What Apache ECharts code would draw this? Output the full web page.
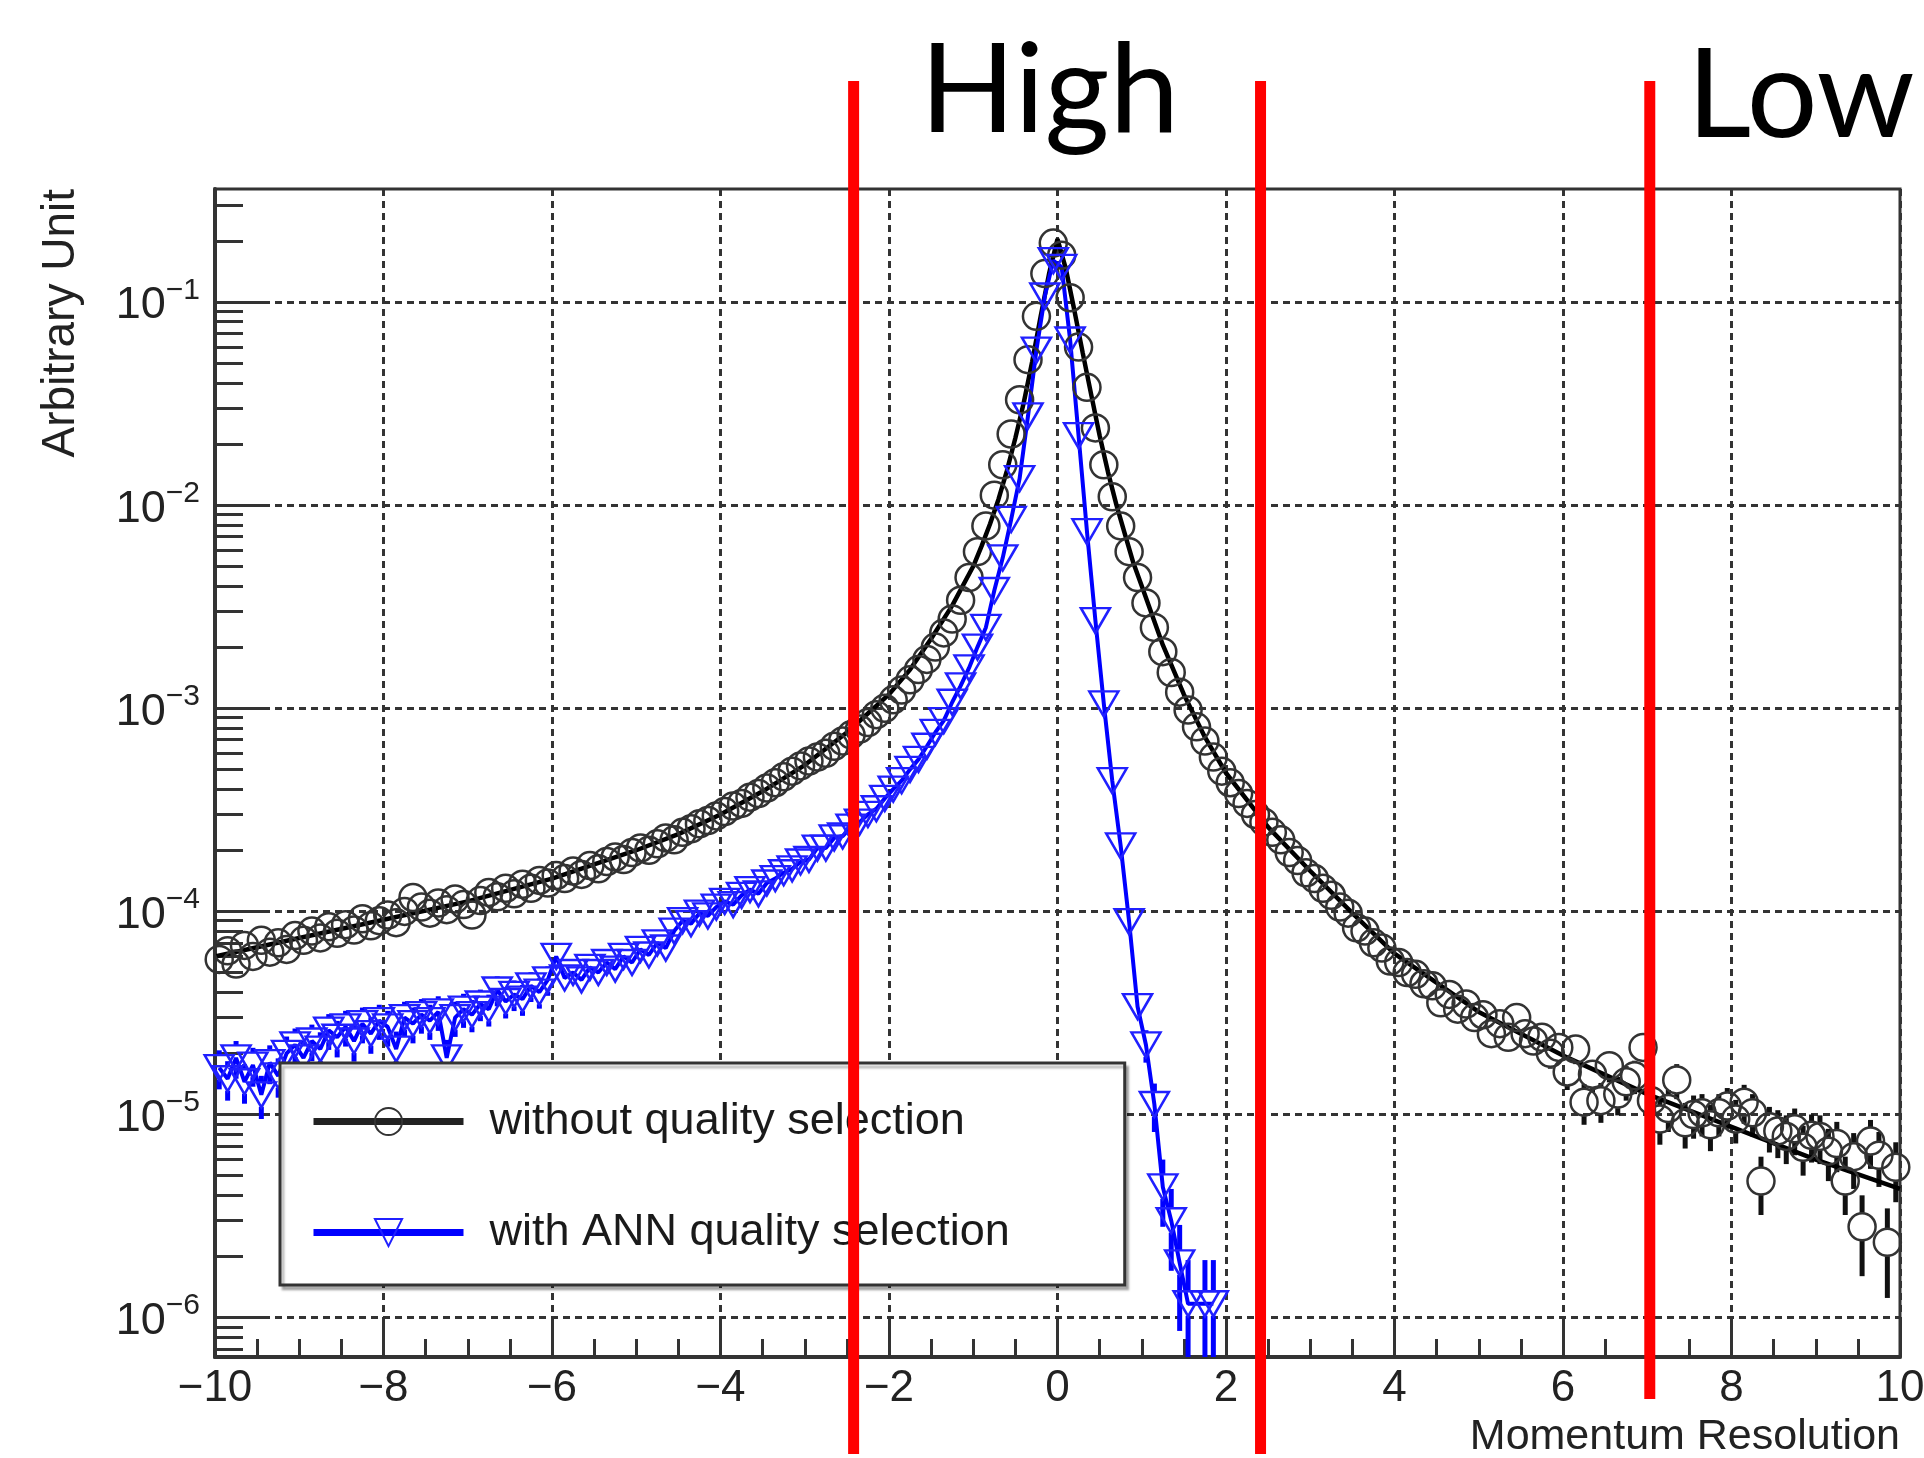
<!DOCTYPE html>
<html>
<head>
<meta charset="utf-8">
<title>Momentum resolution</title>
<script src="https://cdn.jsdelivr.net/npm/echarts@6/dist/echarts.min.js"></script>
<style>
  html, body { margin: 0; padding: 0; background: #fff; }
  #chart { width: 1924px; height: 1458px; }
</style>
</head>
<body>
<div id="chart"></div>
<script>
// histogram bin centres (bin width 0.1)
const binCenters = [
  -9.95, -9.85, -9.75, -9.65, -9.55, -9.45, -9.35, -9.25, -9.15, -9.05,
  -8.95, -8.85, -8.75, -8.65, -8.55, -8.45, -8.35, -8.25, -8.15, -8.05,
  -7.95, -7.85, -7.75, -7.65, -7.55, -7.45, -7.35, -7.25, -7.15, -7.05,
  -6.95, -6.85, -6.75, -6.65, -6.55, -6.45, -6.35, -6.25, -6.15, -6.05,
  -5.95, -5.85, -5.75, -5.65, -5.55, -5.45, -5.35, -5.25, -5.15, -5.05,
  -4.95, -4.85, -4.75, -4.65, -4.55, -4.45, -4.35, -4.25, -4.15, -4.05,
  -3.95, -3.85, -3.75, -3.65, -3.55, -3.45, -3.35, -3.25, -3.15, -3.05,
  -2.95, -2.85, -2.75, -2.65, -2.55, -2.45, -2.35, -2.25, -2.15, -2.05,
  -1.95, -1.85, -1.75, -1.65, -1.55, -1.45, -1.35, -1.25, -1.15, -1.05,
  -0.95, -0.85, -0.75, -0.65, -0.55, -0.45, -0.35, -0.25, -0.15, -0.05,
  0.05, 0.15, 0.25, 0.35, 0.45, 0.55, 0.65, 0.75, 0.85, 0.95,
  1.05, 1.15, 1.25, 1.35, 1.45, 1.55, 1.65, 1.75, 1.85, 1.95,
  2.05, 2.15, 2.25, 2.35, 2.45, 2.55, 2.65, 2.75, 2.85, 2.95,
  3.05, 3.15, 3.25, 3.35, 3.45, 3.55, 3.65, 3.75, 3.85, 3.95,
  4.05, 4.15, 4.25, 4.35, 4.45, 4.55, 4.65, 4.75, 4.85, 4.95,
  5.05, 5.15, 5.25, 5.35, 5.45, 5.55, 5.65, 5.75, 5.85, 5.95,
  6.05, 6.15, 6.25, 6.35, 6.45, 6.55, 6.65, 6.75, 6.85, 6.95,
  7.05, 7.15, 7.25, 7.35, 7.45, 7.55, 7.65, 7.75, 7.85, 7.95,
  8.05, 8.15, 8.25, 8.35, 8.45, 8.55, 8.65, 8.75, 8.85, 8.95,
  9.05, 9.15, 9.25, 9.35, 9.45, 9.55, 9.65, 9.75, 9.85, 9.95
];

// without quality selection (open circles)
const withoutSelection = [
  5.8e-5, 6.4e-5, 5.5e-5, 6.8e-5, 6.0e-5, 7.2e-5, 6.3e-5, 7.0e-5, 6.5e-5, 7.6e-5,
  7.2e-5, 8.0e-5, 7.4e-5, 8.4e-5, 7.8e-5, 8.6e-5, 8.1e-5, 9.2e-5, 8.5e-5, 9.0e-5,
  9.6e-5, 8.8e-5, 1.0e-4, 1.17e-4, 1.05e-4, 9.8e-5, 1.1e-4, 1.02e-4, 1.15e-4, 1.08e-4,
  9.6e-5, 1.13e-4, 1.24e-4, 1.18e-4, 1.3e-4, 1.22e-4, 1.36e-4, 1.3e-4, 1.42e-4, 1.38e-4,
  1.5e-4, 1.45e-4, 1.58e-4, 1.52e-4, 1.68e-4, 1.62e-4, 1.76e-4, 1.85e-4, 1.8e-4, 1.95e-4,
  2.05e-4, 2.0e-4, 2.15e-4, 2.3e-4, 2.25e-4, 2.45e-4, 2.55e-4, 2.7e-4, 2.8e-4, 2.95e-4,
  3.1e-4, 3.3e-4, 3.4e-4, 3.65e-4, 3.8e-4, 4.05e-4, 4.3e-4, 4.6e-4, 4.9e-4, 5.2e-4,
  5.5e-4, 5.75e-4, 6.0e-4, 6.5e-4, 6.9e-4, 7.4e-4, 7.9e-4, 8.5e-4, 9.3e-4, 1.0e-3,
  1.1e-3, 1.23e-3, 1.38e-3, 1.55e-3, 1.74e-3, 2.0e-3, 2.35e-3, 2.75e-3, 3.4e-3, 4.4e-3,
  5.9e-3, 7.9e-3, 1.12e-2, 1.58e-2, 2.24e-2, 3.3e-2, 5.2e-2, 8.5e-2, 0.138, 0.195,
  0.17, 0.105, 0.060, 0.038, 0.024, 0.0158, 0.011, 7.9e-3, 5.9e-3, 4.4e-3,
  3.3e-3, 2.5e-3, 1.9e-3, 1.5e-3, 1.2e-3, 9.8e-4, 8.1e-4, 6.9e-4, 5.75e-4, 4.9e-4,
  4.3e-4, 3.8e-4, 3.4e-4, 3.0e-4, 2.75e-4, 2.45e-4, 2.25e-4, 1.95e-4, 1.78e-4, 1.55e-4,
  1.45e-4, 1.3e-4, 1.2e-4, 1.05e-4, 9.8e-5, 8.3e-5, 8.0e-5, 7.0e-5, 6.6e-5, 5.7e-5,
  5.6e-5, 5.0e-5, 4.9e-5, 4.4e-5, 4.3e-5, 3.55e-5, 3.9e-5, 3.3e-5, 3.5e-5, 3.0e-5,
  3.1e-5, 2.5e-5, 2.8e-5, 2.4e-5, 3.0e-5, 2.5e-5, 2.3e-5, 2.4e-5, 2.0e-5, 2.14e-5,
  1.62e-5, 2.1e-5, 1.15e-5, 1.58e-5, 1.17e-5, 1.74e-5, 1.26e-5, 1.45e-5, 1.55e-5, 2.14e-5,
  1.17e-5, 9.5e-6, 1.07e-5, 1.48e-5, 9.1e-6, 1.0e-5, 1.02e-5, 8.9e-6, 1.02e-5, 1.1e-5,
  9.5e-6, 1.15e-5, 1.02e-5, 4.7e-6, 8.7e-6, 8.3e-6, 7.8e-6, 8.5e-6, 6.9e-6, 7.9e-6,
  7.8e-6, 6.6e-6, 7.2e-6, 4.7e-6, 6.2e-6, 2.8e-6, 7.4e-6, 6.3e-6, 2.35e-6, 5.5e-6
];

// with ANN quality selection (open triangles), bins -9.95 .. 1.85
const withAnnSelection = [
  1.7e-5, 1.5e-5, 1.9e-5, 1.45e-5, 1.75e-5, 1.25e-5, 1.8e-5, 1.55e-5, 2.0e-5, 2.2e-5,
  1.9e-5, 2.3e-5, 2.1e-5, 2.6e-5, 2.4e-5, 2.7e-5, 2.3e-5, 2.8e-5, 2.5e-5, 2.9e-5,
  2.7e-5, 2.1e-5, 3.0e-5, 2.8e-5, 3.1e-5, 2.9e-5, 3.2e-5, 1.9e-5, 3.0e-5, 3.3e-5,
  3.1e-5, 3.5e-5, 3.3e-5, 4.1e-5, 3.6e-5, 3.9e-5, 3.7e-5, 4.3e-5, 4.0e-5, 4.6e-5,
  6.0e-5, 4.7e-5, 5.0e-5, 4.6e-5, 5.3e-5, 5.0e-5, 5.6e-5, 5.2e-5, 6.0e-5, 5.6e-5,
  6.5e-5, 6.1e-5, 7.0e-5, 6.6e-5, 8.0e-5, 9.0e-5, 8.7e-5, 9.8e-5, 9.5e-5, 1.05e-4,
  1.12e-4, 1.08e-4, 1.2e-4, 1.28e-4, 1.22e-4, 1.38e-4, 1.45e-4, 1.55e-4, 1.62e-4, 1.75e-4,
  1.8e-4, 2.05e-4, 2.05e-4, 2.3e-4, 2.35e-4, 2.6e-4, 2.75e-4, 3.0e-4, 3.2e-4, 3.6e-4,
  4.0e-4, 4.4e-4, 5.0e-4, 5.6e-4, 6.5e-4, 7.6e-4, 8.7e-4, 1.07e-3, 1.29e-3, 1.58e-3,
  2.0e-3, 2.5e-3, 3.8e-3, 5.5e-3, 8.5e-3, 1.35e-2, 2.75e-2, 5.8e-2, 0.107, 0.16,
  0.148, 0.065, 0.022, 7.4e-3, 2.7e-3, 1.05e-3, 4.4e-4, 2.1e-4, 8.9e-5, 3.4e-5,
  2.2e-5, 1.12e-5, 4.4e-6, 3.0e-6, 1.86e-6, 1.17e-6, null, 1.17e-6, 1.17e-6
];

// fitted curve drawn over the open circles
const fitX = [-10, -9, -8, -7, -6, -5, -4.5, -4, -3.5, -3, -2.5, -2, -1.75, -1.5, -1.25, -1,
  -0.9, -0.8, -0.7, -0.6, -0.5, -0.4, -0.3, -0.2, -0.1, 0, 0.1, 0.2, 0.3, 0.4, 0.5, 0.6,
  0.7, 0.8, 0.9, 1.0, 1.25, 1.5, 1.75, 2, 2.5, 3, 3.5, 4, 5, 6, 7, 8, 9, 10];
const fitY = [6.0e-5, 7.4e-5, 9.1e-5, 1.12e-4, 1.45e-4, 2.0e-4, 2.4e-4, 3.0e-4, 3.9e-4, 5.25e-4,
  7.6e-4, 1.17e-3, 1.55e-3, 2.2e-3, 3.2e-3, 5.0e-3, 6.3e-3, 8.1e-3, 1.07e-2, 1.48e-2,
  2.14e-2, 3.2e-2, 5.1e-2, 8.5e-2, 0.138, 0.204, 0.145, 0.091, 0.056, 0.035, 0.022, 0.0145,
  0.010, 7.2e-3, 5.2e-3, 4.0e-3, 2.05e-3, 1.17e-3, 7.2e-4, 4.8e-4, 2.6e-4, 1.58e-4,
  9.8e-5, 6.2e-5, 3.2e-5, 1.95e-5, 1.26e-5, 8.7e-6, 6.0e-6, 4.3e-6];

// [bin centre, error] where the error bars stick out of the markers
const withoutSelectionErrors = [
  [5.45, 4e-6], [5.55, 3.6e-6], [5.65, 3.4e-6], [5.75, 3.5e-6], [5.85, 3.2e-6], [5.95, 3.3e-6],
  [6.05, 3.0e-6], [6.15, 3.3e-6], [6.25, 2.6e-6], [6.35, 2.9e-6], [6.45, 2.6e-6], [6.55, 3.0e-6],
  [6.65, 2.7e-6], [6.75, 2.8e-6], [6.85, 2.9e-6], [6.95, 3.3e-6], [7.05, 2.6e-6], [7.15, 2.4e-6],
  [7.25, 2.5e-6], [7.35, 2.9e-6], [7.45, 2.3e-6], [7.55, 2.4e-6], [7.65, 2.4e-6], [7.75, 2.3e-6],
  [7.85, 2.4e-6], [7.95, 2.5e-6], [8.05, 2.3e-6], [8.15, 2.5e-6], [8.25, 2.4e-6], [8.35, 1.5e-6],
  [8.45, 2.2e-6], [8.55, 2.2e-6], [8.65, 2.1e-6], [8.75, 2.2e-6], [8.85, 1.9e-6], [8.95, 2.1e-6],
  [9.05, 2.1e-6], [9.15, 1.9e-6], [9.25, 2.0e-6], [9.35, 1.5e-6], [9.45, 1.9e-6], [9.55, 1.2e-6],
  [9.65, 2.0e-6], [9.75, 1.9e-6], [9.85, 1.1e-6], [9.95, 1.8e-6]
];
const withAnnErrors = [
  [-9.95, 3.7e-6], [-9.85, 3.3e-6], [-9.75, 4.0e-6], [-9.65, 3.2e-6], [-9.55, 3.8e-6],
  [-9.45, 3.0e-6], [-9.35, 3.9e-6], [-9.25, 3.4e-6], [-9.15, 4.2e-6], [-9.05, 4.5e-6],
  [-8.95, 4.1e-6], [-8.85, 4.7e-6], [-8.75, 4.4e-6], [-8.65, 5.2e-6], [-8.55, 4.9e-6],
  [-8.45, 5.4e-6], [-8.35, 4.8e-6], [-8.25, 5.6e-6], [-8.15, 5.1e-6], [-8.05, 5.7e-6],
  [-7.95, 5.4e-6], [-7.85, 4.6e-6], [-7.75, 5.9e-6], [-7.65, 5.6e-6], [-7.55, 6.0e-6],
  [-7.45, 5.7e-6], [-7.35, 6.2e-6], [-7.25, 4.3e-6], [-7.15, 5.9e-6], [-7.05, 6.3e-6],
  [-6.95, 5.6e-6], [-6.85, 6.2e-6], [-6.75, 5.9e-6], [-6.65, 6.9e-6], [-6.55, 6.3e-6],
  [-6.45, 6.7e-6], [-6.35, 6.4e-6], [-6.25, 7.2e-6], [-6.15, 6.8e-6], [-6.05, 7.6e-6],
  [1.05, 4e-6], [1.15, 3e-6], [1.25, 1.6e-6], [1.35, 1.3e-6], [1.45, 1.0e-6],
  [1.55, 0.75e-6], [1.75, 0.75e-6], [1.85, 0.75e-6]
];

const yMajorTicks = [1e-6, 1e-5, 1e-4, 1e-3, 1e-2, 1e-1];
const yMinorTicks = [
  7e-7, 8e-7, 9e-7,
  2e-6, 3e-6, 4e-6, 5e-6, 6e-6, 7e-6, 8e-6, 9e-6,
  2e-5, 3e-5, 4e-5, 5e-5, 6e-5, 7e-5, 8e-5, 9e-5,
  2e-4, 3e-4, 4e-4, 5e-4, 6e-4, 7e-4, 8e-4, 9e-4,
  2e-3, 3e-3, 4e-3, 5e-3, 6e-3, 7e-3, 8e-3, 9e-3,
  2e-2, 3e-2, 4e-2, 5e-2, 6e-2, 7e-2, 8e-2, 9e-2,
  2e-1, 3e-1
];

// region boundaries drawn on top of the plot
const redLineX = [-2.42, 2.41, 7.03];
const redLineBottom = [0, 0, 0.04];

const FONT = 'Liberation Sans';
const AXIS_COLOR = '#333';

function errorData(values, errors) {
  return errors.map(function (e) {
    const v = values[binCenters.indexOf(e[0])];
    return [e[0], v - e[1], v + e[1], v];
  });
}

function errorBars(gap, color, width) {
  return function (params, api) {
    const x = api.value(0);
    const top = api.coord([x, api.value(2)]);
    const mid = api.coord([x, api.value(3)]);
    const bot = api.coord([x, api.value(1)]);
    const cs = params.coordSys;
    const clamp = function (y) { return Math.max(cs.y, Math.min(cs.y + cs.height, y)); };
    const parts = [[clamp(top[1]), clamp(mid[1] - gap)], [clamp(mid[1] + gap), clamp(bot[1])]];
    const children = [];
    parts.forEach(function (p) {
      if (p[1] - p[0] > 1) {
        children.push({
          type: 'line',
          shape: { x1: mid[0], y1: p[0], x2: mid[0], y2: p[1] },
          style: { stroke: color, lineWidth: width }
        });
      }
    });
    return { type: 'group', children: children };
  };
}

const chart = echarts.init(document.getElementById('chart'), null, { renderer: 'canvas' });

chart.setOption({
  animation: false,
  backgroundColor: '#fff',
  grid: [
    {
      left: 215, right: 24, top: 189, bottom: 101,
      containLabel: false, outerBoundsMode: 'none',
      show: true, borderColor: AXIS_COLOR, borderWidth: 3
    },
    { left: 215, right: 24, top: 81, bottom: 4, containLabel: false, outerBoundsMode: 'none' }
  ],
  xAxis: [
    {
      type: 'value', gridIndex: 0, min: -10, max: 10, interval: 2,
      position: 'bottom',
      name: 'Momentum Resolution',
      nameLocation: 'end', nameGap: 0, nameMoveOverlap: false,
      nameTextStyle: {
        fontFamily: FONT, fontSize: 43, color: '#222',
        align: 'right', verticalAlign: 'top', padding: [59, 0, 0, 0]
      },
      axisLine: { show: true, onZero: false, lineStyle: { color: AXIS_COLOR, width: 4 } },
      axisTick: { show: true, inside: true, length: 40, lineStyle: { color: AXIS_COLOR, width: 3 } },
      minorTick: { show: true, splitNumber: 4, length: 18, lineStyle: { color: AXIS_COLOR, width: 3 } },
      axisLabel: {
        margin: 10, fontFamily: FONT, fontSize: 44, color: '#222',
        formatter: function (v) { return v < 0 ? '\u2212' + (-v) : String(v); }
      },
      splitLine: { show: true, lineStyle: { color: '#333', width: 3, type: [7, 5] } }
    },
    { type: 'value', gridIndex: 1, min: -10, max: 10, show: false }
  ],
  yAxis: [
    {
      type: 'log', logBase: 10, gridIndex: 0, min: 6.4e-7, max: 0.36,
      position: 'left',
      name: 'Arbitrary Unit',
      nameLocation: 'end', nameGap: 0, nameRotate: 90, nameMoveOverlap: false,
      nameTextStyle: {
        fontFamily: FONT, fontSize: 46, color: '#222',
        align: 'right', verticalAlign: 'bottom', padding: [0, 0, 131, 0]
      },
      axisLine: { show: true, onZero: false, lineStyle: { color: AXIS_COLOR, width: 4 } },
      axisTick: {
        show: true, inside: true, length: 55, customValues: yMajorTicks,
        lineStyle: { color: AXIS_COLOR, width: 3 }
      },
      axisLabel: {
        margin: 15, customValues: yMajorTicks,
        formatter: function (value) {
          const exp = Math.round(Math.log10(value));
          return '{b|10}{e|\u2212' + (-exp) + '}';
        },
        rich: {
          b: { fontFamily: FONT, fontSize: 45, color: '#222', lineHeight: 53, verticalAlign: 'bottom' },
          e: { fontFamily: FONT, fontSize: 30, color: '#222', lineHeight: 30, verticalAlign: 'top' }
        }
      },
      splitLine: { show: true, lineStyle: { color: '#333', width: 3, type: [7, 5] } }
    },
    {
      // log minor ticks (2..9 of each decade) on the same left edge
      type: 'log', logBase: 10, gridIndex: 0, min: 6.4e-7, max: 0.36,
      position: 'left',
      axisLine: { show: false, onZero: false },
      axisLabel: { show: false },
      splitLine: { show: false },
      axisTick: {
        show: true, inside: true, length: 28, customValues: yMinorTicks,
        lineStyle: { color: AXIS_COLOR, width: 3 }
      }
    },
    { type: 'value', gridIndex: 1, min: 0, max: 1, show: false }
  ],
  legend: {
    orient: 'vertical', left: 280, top: 1063,
    padding: [36, 115, 30, 30],
    itemWidth: 150, itemHeight: 34, itemGap: 66,
    backgroundColor: '#fff', borderColor: '#333', borderWidth: 3,
    shadowColor: 'rgba(0,0,0,0.25)', shadowOffsetX: 3, shadowOffsetY: 4, shadowBlur: 2,
    selectedMode: false,
    textStyle: { fontFamily: FONT, fontSize: 45, color: '#1a1a1a', lineHeight: 44, padding: [0, 0, 0, 21] },
    data: [
      { name: 'without quality selection', lineStyle: { color: '#222', width: 7, opacity: 1 } },
      { name: 'with ANN quality selection', lineStyle: { color: '#0000ff', width: 7, opacity: 1 } }
    ]
  },
  graphic: [
    {
      type: 'text', x: 920, y: 92,
      style: { text: 'High', fontFamily: 'Lato', fontSize: 125, fill: '#000',
        align: 'left', verticalAlign: 'middle', textAlign: 'left', textVerticalAlign: 'middle' }
    },
    {
      type: 'text', x: 1687, y: 97,
      style: { text: 'Low', fontFamily: 'Lato', fontSize: 125, fill: '#000',
        align: 'left', verticalAlign: 'middle', textAlign: 'left', textVerticalAlign: 'middle' }
    }
  ],
  series: [
    {
      name: 'without quality selection errors',
      type: 'custom', xAxisIndex: 0, yAxisIndex: 0, silent: true,
      renderItem: errorBars(14, '#111', 5),
      data: errorData(withoutSelection, withoutSelectionErrors)
    },
    {
      name: 'without quality selection',
      type: 'line', xAxisIndex: 0, yAxisIndex: 0,
      data: binCenters.map(function (x, i) { return [x, withoutSelection[i]]; }),
      symbol: 'circle', symbolSize: 27,
      itemStyle: { color: 'transparent', borderColor: '#333', borderWidth: 2.5 },
      lineStyle: { width: 0, opacity: 0 },
      silent: true
    },
    {
      name: 'fit',
      type: 'line', xAxisIndex: 0, yAxisIndex: 0,
      data: fitX.map(function (x, i) { return [x, fitY[i]]; }),
      symbol: 'none',
      lineStyle: { color: '#000', width: 4.5 },
      silent: true
    },
    {
      name: 'with ANN quality selection errors',
      type: 'custom', xAxisIndex: 0, yAxisIndex: 0, silent: true,
      renderItem: errorBars(12, '#0000ff', 5),
      data: errorData(withAnnSelection, withAnnErrors)
    },
    {
      name: 'with ANN quality selection',
      type: 'line', xAxisIndex: 0, yAxisIndex: 0,
      data: binCenters.slice(0, withAnnSelection.length).map(function (x, i) { return [x, withAnnSelection[i]]; }),
      connectNulls: true,
      symbol: 'triangle', symbolSize: [29, 25], symbolRotate: 180,
      itemStyle: { color: 'transparent', borderColor: '#2020ff', borderWidth: 2.5 },
      lineStyle: { color: '#0000ff', width: 4 },
      silent: true
    }
  ].concat(redLineX.map(function (x, i) {
    return {
      name: 'boundary ' + (i + 1),
      type: 'line', xAxisIndex: 1, yAxisIndex: 2,
      data: [[x, redLineBottom[i]], [x, 1]],
      symbol: 'none', clip: false, z: 10, silent: true,
      lineStyle: { color: '#ff0000', width: 11, cap: 'butt' }
    };
  }))
});
</script>
</body>
</html>
